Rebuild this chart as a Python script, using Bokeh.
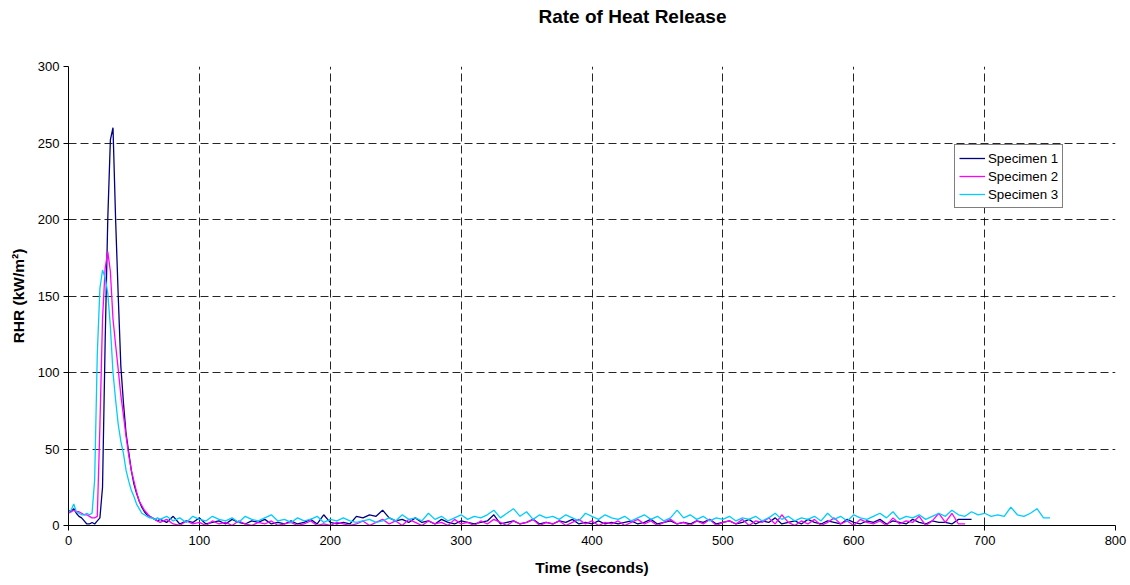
from bokeh.plotting import figure
from bokeh.models import Range1d, FixedTicker, Legend, LegendItem, Title
from bokeh.embed import file_html
from bokeh.resources import INLINE

# ---- data -------------------------------------------------------------
title_text = "Rate of Heat Release"
x_label = "Time (seconds)"
y_label = "RHR (kW/m\u00b2)"
series_names = ["Specimen 1", "Specimen 2", "Specimen 3"]
x_ticks = [0, 100, 200, 300, 400, 500, 600, 700, 800]
y_ticks = [0, 50, 100, 150, 200, 250, 300]

# Specimen 1: 0..68 s every 2 s, then 70..690 s every 5 s
s1_peak = [10, 9, 11, 8, 6, 5, 3, 1, 1, 2, 1, 3, 5, 25, 120, 200, 252, 260, 200, 150,
           104, 80, 60, 48, 36, 27, 21, 16, 12, 9, 7, 6, 5, 4, 3]
s1_base = [4, 2, 6, 1, 3, 2, 5, 1, 2, 3,
           1, 4, 2, 1, 3, 2, 4, 1, 2, 1,
           3, 1, 2, 4, 1, 7, 2, 1, 2, 1,
           6, 5, 7, 6, 10, 5, 3, 4, 2, 5,
           2, 3, 1, 4, 2, 1, 3, 2, 1, 2,
           3, 7, 1, 2, 3, 1, 2, 4, 1, 2,
           1, 3, 2, 4, 1, 2, 1, 3, 1, 2,
           1, 2, 3, 1, 2, 4, 1, 2, 3, 1,
           2, 1, 3, 2, 4, 1, 2, 3, 1, 2,
           4, 1, 3, 2, 5, 1, 2, 3, 1, 4,
           2, 1, 3, 2, 1, 4, 2, 1, 3, 2,
           4, 1, 3, 2, 1, 4, 2, 1, 3, 2,
           2, 1, 4, 4, 4]

# Specimen 2: 0..68 s every 2 s, then 70..685 s every 5 s
s2_peak = [8, 9, 10, 9, 9, 8, 7, 7, 6, 5, 5, 6, 65, 135, 168, 179, 166, 135, 118, 102,
           85, 72, 58, 46, 36, 29, 22, 16, 13, 10, 8, 6, 5, 4, 3]
s2_base = [2, 4, 1, 0, 3, 1, 2, 0, 3, 1,
           2, 0, 3, 1, 0, 2, 1, 3, 0, 1,
           2, 0, 1, 3, 0, 1, 0, 2, 1, 0,
           1, 3, 0, 2, 4, 1, 3, 0, 4, 2,
           0, 3, 1, 2, 0, 4, 1, 2, 0, 3,
           1, 4, 2, 0, 3, 1, 2, 4, 0, 2,
           1, 3, 0, 2, 4, 1, 3, 0, 2, 1,
           3, 0, 2, 4, 1, 3, 0, 2, 4, 1,
           2, 0, 3, 1, 4, 0, 2, 3, 1, 4,
           0, 3, 2, 5, 1, 7, 2, 0, 3, 1,
           4, 0, 2, 5, 1, 3, 0, 4, 2, 1,
           3, 0, 5, 1, 3, 2, 6, 0, 3, 8,
           2, 8, 1, 1]

# Specimen 3: 0..68 s every 2 s, then 70..750 s every 5 s
s3_peak = [9, 10, 14, 9, 8, 7, 7, 8, 7, 8, 30, 112, 155, 167, 162, 152, 130, 100, 82, 66,
           55, 47, 36, 29, 23, 19, 14, 11, 8, 7, 6, 5, 5, 4, 5]
s3_base = [4, 6, 3, 5, 2, 6, 4, 3, 6, 4,
           3, 5, 2, 6, 4, 3, 5, 7, 3, 4,
           2, 5, 3, 4, 6, 2, 4, 3, 5, 3,
           2, 3, 4, 2, 3, 5, 3, 7, 4, 5,
           3, 8, 4, 6, 3, 5, 7, 4, 6, 5,
           7, 10, 5, 8, 11, 6, 9, 4, 7, 5,
           6, 4, 7, 5, 3, 8, 6, 4, 7, 5,
           4, 6, 3, 5, 7, 4, 6, 3, 5, 10,
           5, 7, 4, 6, 3, 5, 4, 6, 3, 5,
           4, 6, 3, 5, 8, 4, 6, 3, 5, 4,
           6, 3, 8, 4, 6, 3, 7, 5, 4, 6,
           8, 5, 9, 4, 6, 5, 7, 4, 6, 8,
           6, 10, 7, 6, 9, 7, 8, 6, 7, 6,
           12, 7, 6, 8, 11, 5, 5]

t_peak = list(range(0, 70, 2))
t1 = t_peak + list(range(70, 691, 5))
t2 = t_peak + list(range(70, 686, 5))
t3 = t_peak + list(range(70, 751, 5))
y1 = s1_peak + s1_base
y2 = s2_peak + s2_base
y3 = s3_peak + s3_base
assert len(t1) == len(y1), (len(t1), len(y1))
assert len(t2) == len(y2), (len(t2), len(y2))
assert len(t3) == len(y3), (len(t3), len(y3))

colors = ["#000080", "#FF00FF", "#00CCFF"]

# ---- figure -----------------------------------------------------------
FONT = "Liberation Sans"
p = figure(width=1130, height=585, output_backend="svg", toolbar_location=None,
           title=None,
           x_range=Range1d(0, 800), y_range=Range1d(0, 300),
           min_border_left=68, min_border_right=15, min_border_top=66,
           min_border_bottom=60)
p.outline_line_color = None
p.background_fill_color = "white"
p.border_fill_color = "white"

# blank spacer next to the frame, then the real title above it
spacer = Title(text=" ", text_font=FONT, text_font_size="13px", standoff=16)
p.add_layout(spacer, "above")
main_title = Title(text=title_text, text_font=FONT, text_font_size="19px",
                   text_font_style="bold", text_color="black", align="left",
                   offset=470, vertical_align="top", standoff=10)
p.add_layout(main_title, "above")

for ax in (p.xaxis[0], p.yaxis[0]):
    ax.axis_line_color = "black"
    ax.axis_line_width = 1
    ax.major_tick_line_color = "black"
    ax.major_tick_out = 5
    ax.major_tick_in = 0
    ax.minor_tick_line_color = None
    ax.major_label_text_font = FONT
    ax.major_label_text_font_size = "13px"
    ax.major_label_text_color = "black"
    ax.axis_label_text_font = FONT
    ax.axis_label_text_font_size = "15.5px"
    ax.axis_label_text_font_style = "bold"
    ax.axis_label_text_color = "black"

p.xaxis.ticker = FixedTicker(ticks=x_ticks)
p.yaxis.ticker = FixedTicker(ticks=y_ticks)
p.xaxis.axis_label = x_label
p.yaxis.axis_label = y_label
p.xaxis.major_label_standoff = 5
p.yaxis.major_label_standoff = 4
p.xaxis.axis_label_standoff = 11
p.yaxis.axis_label_standoff = 8

for g in (p.xgrid[0], p.ygrid[0]):
    g.grid_line_color = "black"
    g.grid_line_alpha = 0.85
    g.grid_line_width = 1
    g.grid_line_dash = "8 4"

renderers = []
for tx, ty, c in zip([t1, t2, t3], [y1, y2, y3], colors):
    r = p.line(tx, ty, line_color=c, line_width=1.3)
    renderers.append(r)

legend = Legend(items=[LegendItem(label=n, renderers=[r]) for n, r in zip(series_names, renderers)],
                location=(886, 317))
legend.border_line_color = "black"
legend.border_line_width = 1
legend.background_fill_color = "white"
legend.background_fill_alpha = 1
legend.label_text_font = FONT
legend.label_text_font_size = "13.3px"
legend.label_text_color = "black"
legend.padding = 4
legend.spacing = 0
legend.margin = 0
legend.label_height = 18
legend.glyph_height = 18
legend.glyph_width = 26
legend.label_standoff = 3
p.add_layout(legend, "center")

open("out.html", "w").write(file_html(p, INLINE))
